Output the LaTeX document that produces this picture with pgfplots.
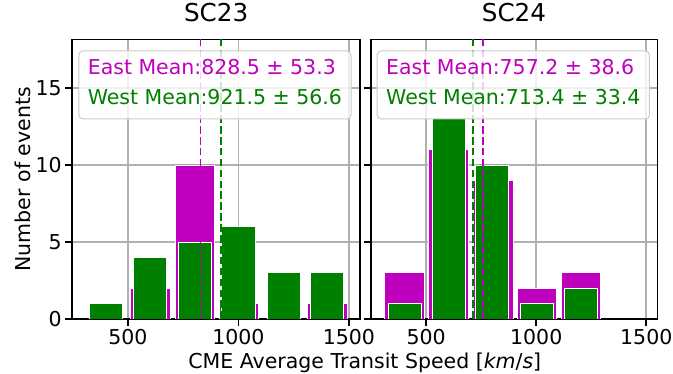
\documentclass[border=0pt]{standalone}
\usepackage{pgfplots}
\pgfplotsset{compat=1.18}
\usepackage{fontspec}
\setmainfont{DejaVu Sans}
\definecolor{mm}{HTML}{BF00BF}
\definecolor{gg}{HTML}{008000}
\definecolor{gridc}{HTML}{B0B0B0}
\definecolor{legc}{HTML}{CCCCCC}

\tikzset{
 leg/.style={anchor=north west, xshift=6pt, yshift=-11pt, draw=legc, line width=1pt,
   fill=white, fill opacity=0.8, text opacity=1, rounded corners=4pt,
   inner xsep=9pt, inner ysep=0pt, align=left, font=\fontsize{20.5}{30}\selectfont},
 meanl/.style={line width=1.6pt, dash pattern=on 7.6pt off 3.3pt},
}
\pgfplotsset{
 hist/.style={
  scale only axis, width=287.7pt, height=279.5pt,
  xmin=248, xmax=1550, ymin=0, ymax=18.15,
  xtick={500,1000,1500}, ytick={0,5,10,15},
  grid=major, grid style={gridc, line width=1.6pt},
  axis line style={line width=1.6pt, black},
  every tick/.style={line width=1.6pt, black},
  major tick length=7pt,
  tick align=outside, xtick pos=bottom, ytick pos=left,
  tick label style={font=\fontsize{20.5}{24}\selectfont},
  /pgf/number format/assume math mode=true,
  /pgf/number format/1000 sep={},
  title style={font=\fontsize{24.6}{29}\selectfont, at={(0.5,1)}, anchor=base, yshift=11.5pt},
 },
 ebar/.style={ybar, bar width=180, bar shift=0pt, fill=mm, draw=white, line width=0.8pt},
 wbar/.style={ybar, bar width=150, bar shift=0pt, fill=gg, draw=white, line width=0.8pt},
}

\begin{document}
\begin{tikzpicture}
\path[use as bounding box] (-72.3pt,-55pt) rectangle (600.7pt,319pt);

\begin{axis}[hist, at={(0pt,0pt)}, anchor=south west, title={SC23}]
 \addplot[ebar] coordinates {(600,2) (803,10) (1002,1) (1403,1)};
 \addplot[wbar] coordinates {(401,1) (601,4) (803,5) (1000,6) (1206,3) (1402,3)};
 \addplot[mm, meanl] coordinates {(828.5,0) (828.5,18.15)};
 \addplot[gg, meanl] coordinates {(921.5,0) (921.5,18.15)};
 \node[leg] at (rel axis cs:0,1) {\rule{0pt}{24pt}\textcolor{mm}{East Mean:828.5 ± 53.3}\\\textcolor{gg}{West Mean:921.5 ± 56.6}\rule[-14pt]{0pt}{14pt}};
\end{axis}

\begin{axis}[hist, at={(298.4pt,0pt)}, anchor=south west, width=286.6pt, yticklabels={}, title={SC24}]
 \addplot[ebar] coordinates {(401,3) (602,11) (804,9) (1003,2) (1203,3)};
 \addplot[wbar] coordinates {(404,1) (604,13) (800,10) (1004,1) (1203,2)};
 \addplot[mm, meanl] coordinates {(757.2,0) (757.2,18.15)};
 \addplot[gg, meanl] coordinates {(713.4,0) (713.4,18.15)};
 \node[leg] at (rel axis cs:0,1) {\rule{0pt}{24pt}\textcolor{mm}{East Mean:757.2 ± 38.6}\\\textcolor{gg}{West Mean:713.4 ± 33.4}\rule[-14pt]{0pt}{14pt}};
\end{axis}

\node[rotate=90, anchor=center, font=\fontsize{20.5}{24}\selectfont] at (-49pt,139.75pt) {Number of events};
\node[anchor=base, font=\fontsize{20.5}{24}\selectfont] at (292.5pt,-50pt) {CME Average Transit Speed [\textit{km}/\textit{s}]};
\end{tikzpicture}
\end{document}
